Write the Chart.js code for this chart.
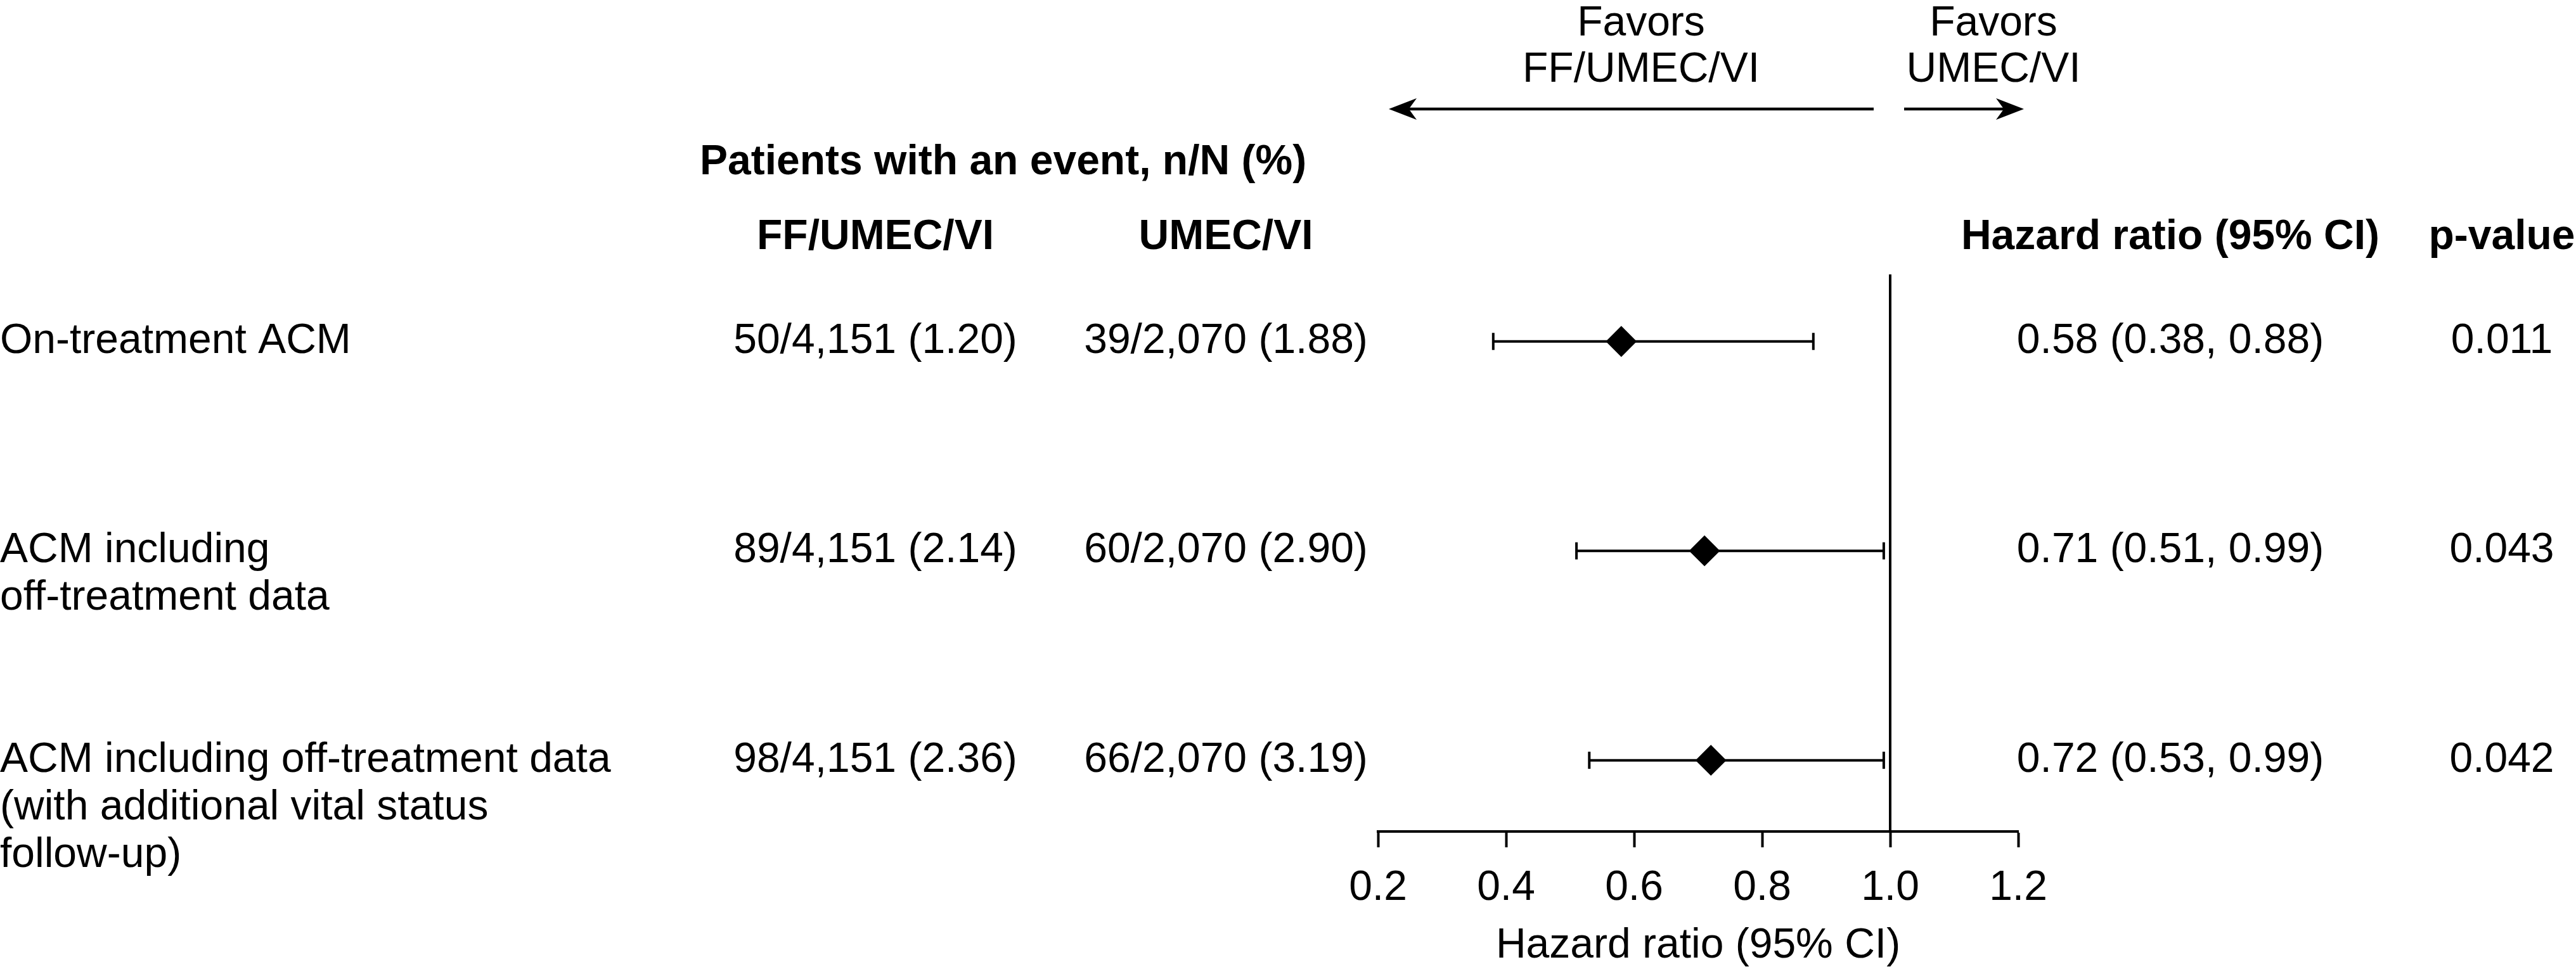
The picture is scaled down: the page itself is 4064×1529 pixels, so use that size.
<!DOCTYPE html>
<html>
<head>
<meta charset="utf-8">
<script src="https://cdn.jsdelivr.net/npm/chart.js@4/dist/chart.umd.min.js"></script>
<style>
  html, body { margin: 0; padding: 0; background: #fff; overflow: hidden; }
  canvas { display: block; }
</style>
</head>
<body>
<canvas id="c" width="4064" height="1529" style="width:4064px;height:1529px"></canvas>
<script>
// ---------------- DATA ----------------
const rowLabels = [
  ["On-treatment ACM"],
  ["ACM including", "off-treatment data"],
  ["ACM including off-treatment data", "(with additional vital status", "follow-up)"]
];
const ffUmecViEvents = ["50/4,151 (1.20)", "89/4,151 (2.14)", "98/4,151 (2.36)"];
const umecViEvents   = ["39/2,070 (1.88)", "60/2,070 (2.90)", "66/2,070 (3.19)"];
const hazardRatio = [0.58, 0.71, 0.72];
const ciLower     = [0.38, 0.51, 0.53];
const ciUpper     = [0.88, 0.99, 0.99];
const pValues     = ["0.011", "0.043", "0.042"];
const xTicks      = [0.2, 0.4, 0.6, 0.8, 1.0, 1.2];
const refValue    = 1.0;
const groupHeader = "Patients with an event, n/N (%)";
const colHeaders  = ["FF/UMEC/VI", "UMEC/VI", "Hazard ratio (95% CI)", "p-value"];
const favorsLeft  = ["Favors", "FF/UMEC/VI"];
const favorsRight = ["Favors", "UMEC/VI"];
const xTitle      = "Hazard ratio (95% CI)";

// ---------------- LAYOUT / STYLE ----------------
const FONT = "'Liberation Sans', Arial, Helvetica, sans-serif";
const FS = 66;
const rowIndex = rowLabels.map((_, i) => i + 1);
const Y_MIN = 0.68, Y_MAX = 3.34;
const L = {
  labelX: 0, lineStep: 75,
  groupHeaderX: 1104, groupHeaderY: 257,
  headerY: 375,
  colX: [1381, 1934, 3424, 3947],
  favorsLeftX: 2589, favorsRightX: 3145, favorsY: [38, 111],
  arrowY: 172,
  leftArrow: [2956, 2191], rightArrow: [3004, 3193],
  headLen: 44, headHalf: 17, arrowWidth: 4.5
};

function ciText(i) {
  return hazardRatio[i].toFixed(2) + " (" + ciLower[i].toFixed(2) + ", " + ciUpper[i].toFixed(2) + ")";
}

function drawArrow(ctx, x0, x1, y) {
  const dir = Math.sign(x1 - x0);
  ctx.lineWidth = L.arrowWidth;
  ctx.strokeStyle = '#000';
  ctx.beginPath();
  ctx.moveTo(x0, y);
  ctx.lineTo(x1 - dir * L.headLen * 0.6, y);
  ctx.stroke();
  ctx.beginPath();
  ctx.moveTo(x1, y);
  ctx.lineTo(x1 - dir * L.headLen, y - L.headHalf);
  ctx.lineTo(x1 - dir * L.headLen * 0.72, y);
  ctx.lineTo(x1 - dir * L.headLen, y + L.headHalf);
  ctx.closePath();
  ctx.fillStyle = '#000';
  ctx.fill();
}

const forestText = {
  id: 'forestText',
  beforeDraw(chart) {
    const ctx = chart.ctx;
    ctx.save();
    ctx.fillStyle = '#fff';
    ctx.fillRect(0, 0, chart.width, chart.height);
    ctx.restore();
  },
  afterDraw(chart) {
    const ctx = chart.ctx;
    const ys = chart.scales.y;
    ctx.save();
    ctx.fillStyle = '#000';
    ctx.textBaseline = 'middle';

    // headers
    ctx.font = 'bold ' + FS + 'px ' + FONT;
    ctx.textAlign = 'left';
    ctx.fillText(groupHeader, L.groupHeaderX, L.groupHeaderY);
    ctx.textAlign = 'center';
    colHeaders.forEach((h, i) => ctx.fillText(h, L.colX[i], L.headerY));

    // rows
    ctx.font = FS + 'px ' + FONT;
    rowIndex.forEach((r, i) => {
      const py = ys.getPixelForValue(r);
      ctx.textAlign = 'left';
      rowLabels[i].forEach((line, j) => ctx.fillText(line, L.labelX, py + j * L.lineStep));
      ctx.textAlign = 'center';
      ctx.fillText(ffUmecViEvents[i], L.colX[0], py);
      ctx.fillText(umecViEvents[i], L.colX[1], py);
      ctx.fillText(ciText(i), L.colX[2], py);
      ctx.fillText(pValues[i], L.colX[3], py);
    });

    // favors annotations
    favorsLeft.forEach((t, j) => ctx.fillText(t, L.favorsLeftX, L.favorsY[j]));
    favorsRight.forEach((t, j) => ctx.fillText(t, L.favorsRightX, L.favorsY[j]));
    drawArrow(ctx, L.leftArrow[0], L.leftArrow[1], L.arrowY);
    drawArrow(ctx, L.rightArrow[0], L.rightArrow[1], L.arrowY);
    ctx.restore();
  }
};

// ---------------- DATASETS ----------------
const ciDatasets = rowIndex.map((r, i) => ({
  type: 'line',
  data: [{x: ciLower[i], y: r}, {x: ciUpper[i], y: r}],
  showLine: true,
  borderColor: '#000',
  borderWidth: 4,
  pointStyle: 'line',
  pointRotation: 90,
  pointRadius: 13.5,
  pointHoverRadius: 13.5,
  pointBorderWidth: 4,
  pointBorderColor: '#000',
  fill: false,
  clip: false,
  order: 2
}));

const refDataset = {
  type: 'line',
  data: [{x: refValue, y: Y_MIN}, {x: refValue, y: Y_MAX}],
  showLine: true,
  borderColor: '#000',
  borderWidth: 4,
  pointRadius: 0,
  fill: false,
  clip: false,
  order: 3
};

const pointDataset = {
  type: 'scatter',
  data: rowIndex.map((r, i) => ({x: hazardRatio[i], y: r})),
  pointStyle: 'rectRot',
  pointRadius: 23,
  pointHoverRadius: 23,
  backgroundColor: '#000',
  borderColor: '#000',
  borderWidth: 2,
  clip: false,
  order: 0
};

new Chart(document.getElementById('c'), {
  type: 'scatter',
  data: { datasets: [pointDataset, ...ciDatasets, refDataset] },
  options: {
    responsive: false,
    devicePixelRatio: 1,
    animation: false,
    events: [],
    layout: { padding: { left: 2174, right: 880, top: 433, bottom: 0 } },
    plugins: { legend: { display: false }, tooltip: { enabled: false } },
    scales: {
      x: {
        type: 'linear',
        min: xTicks[0],
        max: xTicks[xTicks.length - 1],
        afterBuildTicks: s => { s.ticks = xTicks.map(v => ({ value: v })); },
        afterFit: s => { s.height = 217; },
        ticks: {
          callback: v => Number(v).toFixed(1),
          font: { size: FS, family: FONT, lineHeight: 1.2 },
          color: '#000',
          padding: 25,
          maxRotation: 0,
          autoSkip: false
        },
        grid: {
          display: true,
          drawOnChartArea: false,
          drawTicks: true,
          tickLength: 25,
          tickWidth: 4,
          tickColor: '#000'
        },
        border: { display: true, color: '#000', width: 4 },
        title: {
          display: true,
          text: xTitle,
          color: '#000',
          font: { size: FS, family: FONT, lineHeight: 1 },
          padding: { top: 0, bottom: 3 }
        }
      },
      y: {
        type: 'linear',
        display: false,
        reverse: true,
        min: Y_MIN,
        max: Y_MAX
      }
    }
  },
  plugins: [forestText]
});
</script>
</body>
</html>
